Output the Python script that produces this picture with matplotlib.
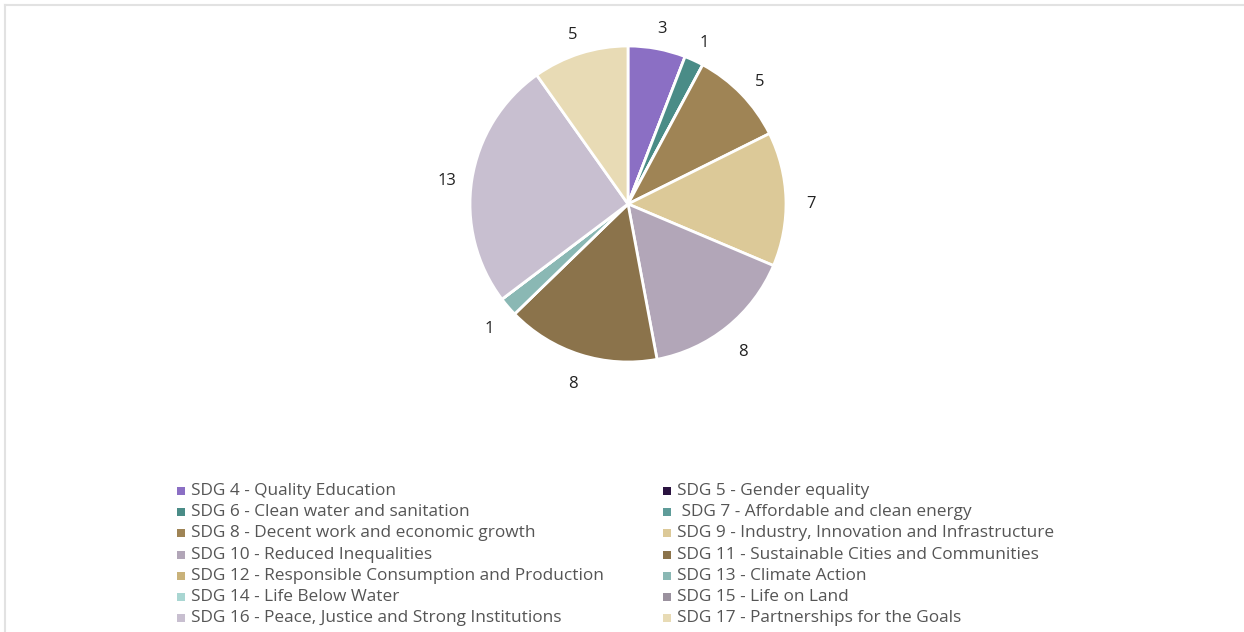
import matplotlib
matplotlib.use("Agg")
import matplotlib.pyplot as plt
from matplotlib.lines import Line2D
from matplotlib.patches import Rectangle
import numpy as np

categories = [
    "SDG 4 - Quality Education",
    "SDG 5 - Gender equality",
    "SDG 6 - Clean water and sanitation",
    " SDG 7 - Affordable and clean energy",
    "SDG 8 - Decent work and economic growth",
    "SDG 9 - Industry, Innovation and Infrastructure",
    "SDG 10 - Reduced Inequalities",
    "SDG 11 - Sustainable Cities and Communities",
    "SDG 12 - Responsible Consumption and Production",
    "SDG 13 - Climate Action",
    "SDG 14 - Life Below Water",
    "SDG 15 - Life on Land",
    "SDG 16 - Peace, Justice and Strong Institutions",
    "SDG 17 - Partnerships for the Goals",
]
values = [3, 0, 1, 0, 5, 7, 8, 8, 0, 1, 0, 0, 13, 5]
colors = [
    "#8b6fc4", "#2a1340", "#4a8c87", "#5f9c99", "#9f8455", "#dcc998",
    "#b2a6b8", "#8b734b", "#c9b27a", "#8ab8b4", "#a9d6d2", "#9a919e",
    "#c8bfd0", "#e8dbb5",
]

W, H = 1244, 632
fig = plt.figure(figsize=(W / 100, H / 100), dpi=100)
fig.patch.set_facecolor("white")

# light frame lines (top and left)
fig.add_artist(Line2D([5 / W, 1], [1 - 5 / H, 1 - 5 / H], color="#e2e2e2", lw=1.5))
fig.add_artist(Line2D([5 / W, 5 / W], [0, 1 - 5 / H], color="#e2e2e2", lw=1.5))

cx, cy, r = 628, 204, 158
ax = fig.add_axes([(cx - r) / W, (H - cy - r) / H, 2 * r / W, 2 * r / H])
wedges, _ = ax.pie(
    values, colors=colors, startangle=90, counterclock=False, radius=1,
    wedgeprops=dict(edgecolor="white", linewidth=2),
)
total = sum(values)
cum = 0
for v in values:
    if v > 0:
        mid = 90 - 360 * (cum + v / 2) / total
        a = np.deg2rad(mid)
        ax.text(1.16 * np.cos(a), 1.16 * np.sin(a) - 0.035, str(v), ha="center", va="center",
                fontsize=12, color="#222222", family=["Open Sans", "DejaVu Sans"])
    cum += v
ax.set_xlim(-1, 1)
ax.set_ylim(-1, 1)
ax.set_aspect("equal")
ax.axis("off")

# legend, two columns, row-major order
col_x = [181, 667]
row_y0, row_dy = 491, 21.2
sq = 8
for i, (lab, c) in enumerate(zip(categories, colors)):
    col, row = i % 2, i // 2
    x = col_x[col]
    y = row_y0 + row * row_dy
    fig.add_artist(Rectangle(((x - sq / 2) / W, (H - y - sq / 2) / H), sq / W, sq / H,
                             facecolor=c, edgecolor="none", transform=fig.transFigure))
    fig.text((x + 10) / W, (H - y) / H, lab, ha="left", va="center", fontsize=12.4,
             color="#555555", family=["Open Sans", "DejaVu Sans"])

fig.savefig("out.png", dpi=100)
